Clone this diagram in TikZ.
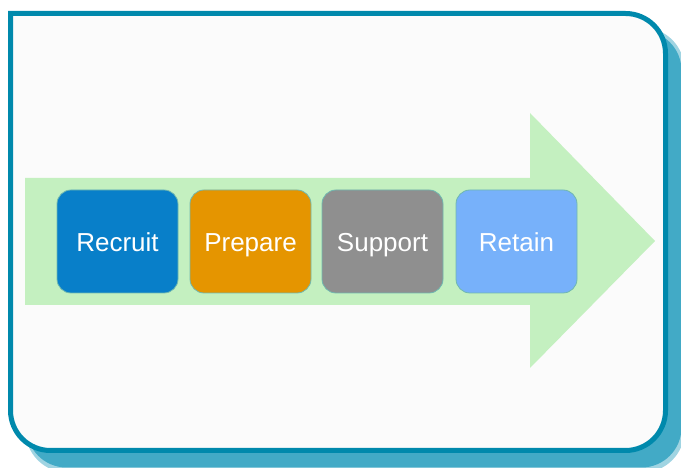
\documentclass[tikz,border=0pt]{standalone}
\usepackage{fontspec}
\setmainfont{Liberation Sans}
\definecolor{frameblue}{RGB}{0,137,172}
\definecolor{shadowblue}{RGB}{66,170,198}
\definecolor{panelgray}{RGB}{251,251,251}
\definecolor{arrowgreen}{RGB}{196,240,192}
\definecolor{recruitblue}{RGB}{8,127,201}
\definecolor{prepareorange}{RGB}{229,149,0}
\definecolor{supportgray}{RGB}{143,143,143}
\definecolor{retainblue}{RGB}{119,177,250}
\definecolor{boxedge}{RGB}{112,184,176}

\begin{document}
\begin{tikzpicture}[line cap=round,line join=round,x=1pt,y=1pt,
	stepbox/.style={rounded corners=14pt,minimum width=121pt,minimum height=103pt,
		draw=boxedge,line width=0.8pt,text=white,inner sep=0pt,
		text height=26pt,text depth=5pt,
		font=\fontsize{26}{30}\selectfont}]
	\useasboundingbox (0,0) rectangle (681,468);
	% shadow
	\fill[shadowblue,opacity=0.5] (25.5,440.5) -- (642.5,440.5) arc[start angle=90,end angle=0,radius=42]
		-- (684.5,37.5) arc[start angle=0,end angle=-90,radius=42] -- (67.5,-4.5)
		arc[start angle=270,end angle=180,radius=42] -- cycle;
	\fill[shadowblue] (26.5,437.5) -- (641.5,437.5) arc[start angle=90,end angle=0,radius=40]
		-- (681.5,40.5) arc[start angle=0,end angle=-90,radius=40] -- (66.5,0.5)
		arc[start angle=270,end angle=180,radius=40] -- cycle;
	% frame
	\draw[frameblue,line width=5pt,fill=panelgray,line cap=butt,line join=miter]
		(10.5,454.5) -- (625.5,454.5) arc[start angle=90,end angle=0,radius=40]
		-- (665.5,57.5) arc[start angle=0,end angle=-90,radius=40] -- (50.5,17.5)
		arc[start angle=270,end angle=180,radius=40] -- cycle;
	% big arrow
	\fill[arrowgreen] (25,290) -- (530,290) -- (530,355) -- (655,227)
		-- (530,100) -- (530,163) -- (25,163) -- cycle;
	% steps
	\node[stepbox,fill=recruitblue] (recruit) at (117.5,226.5) {Recruit};
	\node[stepbox,fill=prepareorange] (prepare) at (250.5,226.5) {Prepare};
	\node[stepbox,fill=supportgray] (support) at (382.5,226.5) {Support};
	\node[stepbox,fill=retainblue] (retain) at (516.5,226.5) {Retain};
\end{tikzpicture}
\end{document}
